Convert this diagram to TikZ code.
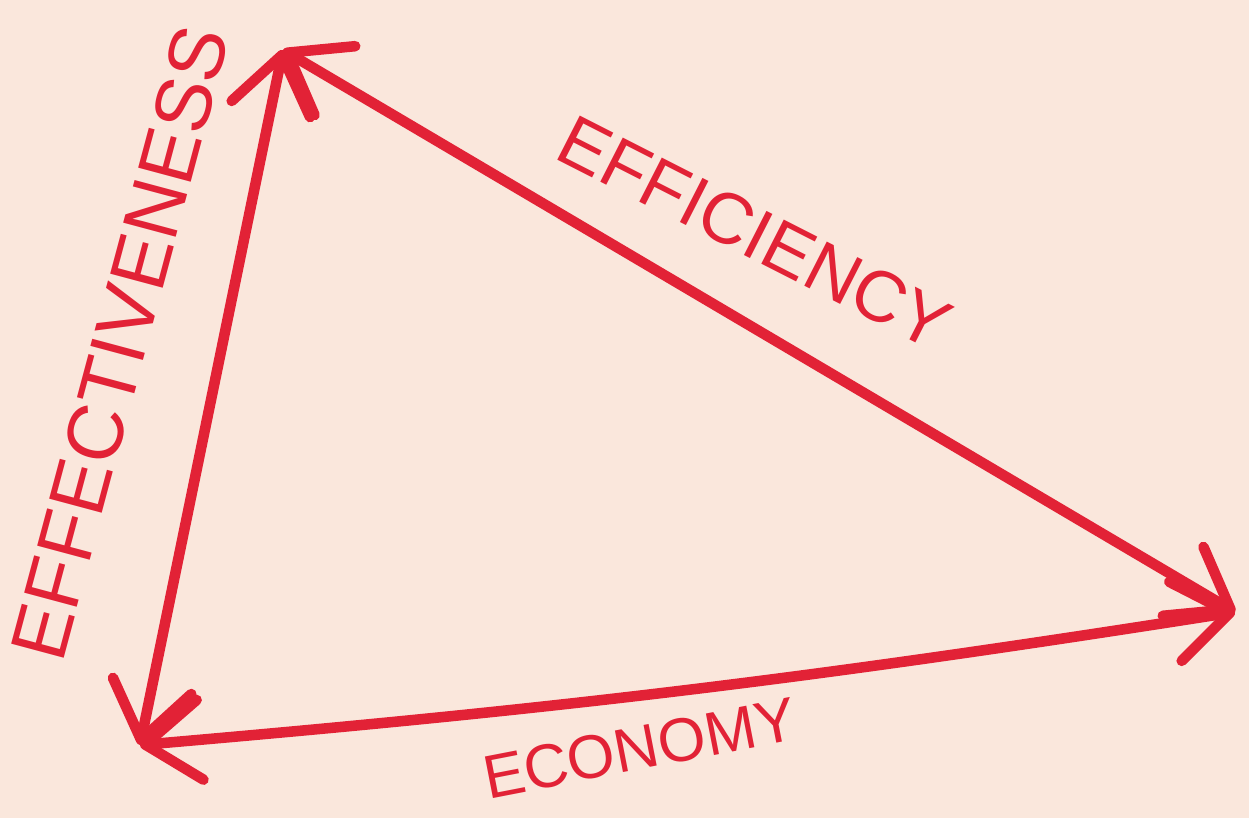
\documentclass[tikz,border=0pt]{standalone}
\usepackage{fontspec}
\setsansfont{Liberation Sans}
\usetikzlibrary{arrows.meta}
\definecolor{paper}{RGB}{250,231,220}
\definecolor{marker}{RGB}{226,34,54}
\begin{document}
\begin{tikzpicture}[
    side/.style={draw=marker, line width=6pt, line cap=round,
        {Straight Barb[length=11mm,width=16mm,round]}-{Straight Barb[length=11mm,width=16mm,round]}},
    word/.style={text=marker, font=\sffamily, inner sep=0pt}
]
    \fill[paper] (0,0) rectangle (24.98,16.36);
    \useasboundingbox (0,0) rectangle (24.98,16.36);
    % Vertici del triangolo
    \coordinate (top) at (5.66,15.36);
    \coordinate (right) at (24.7,4.12);
    \coordinate (left) at (2.8,1.46);

    \draw[side] (top) -- (left);
    \draw[side] (top) -- (right);
    \draw[side] (left) to[bend right=2] (right);

    \node[word, rotate=75, font=\sffamily\fontsize{45}{45}\selectfont] (effectiveness) at (2.4,9.5) {EFFECTIVENESS};
    \node[word, rotate=-27, font=\sffamily\fontsize{41}{41}\selectfont] (efficiency) at (15.1,11.7) {EFFICIENCY};
    \node[word, rotate=11, font=\sffamily\fontsize{35}{35}\selectfont] (economy) at (12.8,1.4) {ECONOMY};
\end{tikzpicture}
\end{document}
